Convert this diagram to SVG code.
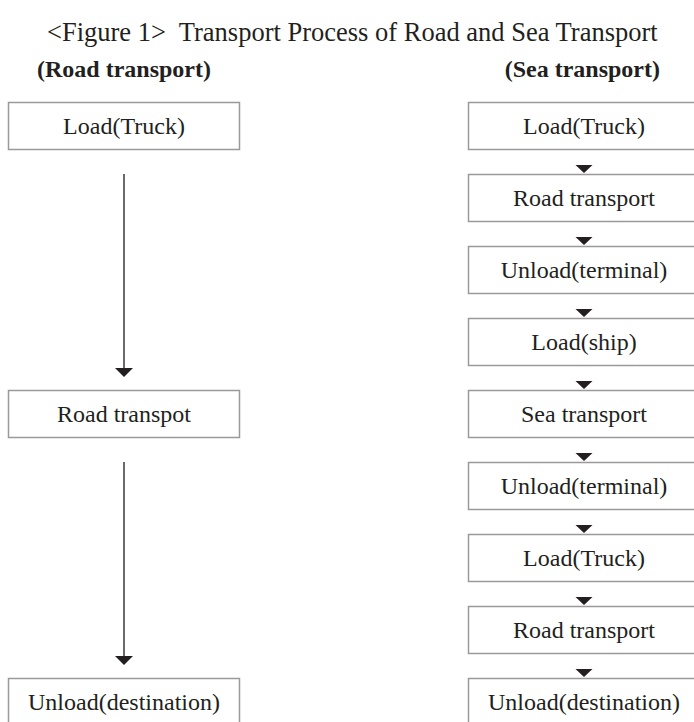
<svg xmlns="http://www.w3.org/2000/svg" width="694" height="722" viewBox="0 0 694 722">
<style>
  text { font-family: "Liberation Serif", "Times New Roman", serif; fill: #231f20; }
  .title { font-size: 26.5px; }
  .hdr { font-size: 24px; font-weight: bold; }
  .lbl { font-size: 24px; text-anchor: middle; }
  .box { fill: #ffffff; stroke: #9a9a9a; stroke-width: 1.5; }
  .line { stroke: #444444; stroke-width: 1.6; fill: none; }
  .head { fill: #231f20; }
</style>
<rect x="0" y="0" width="694" height="722" fill="#ffffff"/>
<text class="title" x="47" y="41">&lt;Figure 1&gt;&#160; Transport Process of Road and Sea Transport</text>
<text class="hdr" x="37" y="77">(Road transport)</text>
<text class="hdr" x="660" y="77" text-anchor="end">(Sea transport)</text>

<g id="connectors">
  <line class="line" x1="124" y1="174" x2="124" y2="370"/>
  <polygon class="head" points="115,368 133,368 124,377"/>
  <line class="line" x1="124" y1="462" x2="124" y2="658"/>
  <polygon class="head" points="115,656 133,656 124,665"/>
  <polygon class="head" points="575.5,165 592.5,165 584,173"/>
  <polygon class="head" points="575.5,237 592.5,237 584,245"/>
  <polygon class="head" points="575.5,309 592.5,309 584,317"/>
  <polygon class="head" points="575.5,381 592.5,381 584,389"/>
  <polygon class="head" points="575.5,453 592.5,453 584,461"/>
  <polygon class="head" points="575.5,525 592.5,525 584,533"/>
  <polygon class="head" points="575.5,597 592.5,597 584,605"/>
  <polygon class="head" points="575.5,669 592.5,669 584,677"/>
</g>

<g id="road-load">
  <rect class="box" x="8.5" y="102.5" width="231" height="47"/>
  <text class="lbl" x="124" y="134">Load(Truck)</text>
</g>
<g id="road-transport">
  <rect class="box" x="8.5" y="390.5" width="231" height="47"/>
  <text class="lbl" x="124" y="422">Road transpot</text>
</g>
<g id="road-unload">
  <rect class="box" x="8.5" y="678.5" width="231" height="47"/>
  <text class="lbl" x="124" y="710">Unload(destination)</text>
</g>

<g id="sea-load-truck">
  <rect class="box" x="468.5" y="102.5" width="231" height="47"/>
  <text class="lbl" x="584" y="134">Load(Truck)</text>
</g>
<g id="sea-road-transport-1">
  <rect class="box" x="468.5" y="174.5" width="231" height="47"/>
  <text class="lbl" x="584" y="206">Road transport</text>
</g>
<g id="sea-unload-terminal-1">
  <rect class="box" x="468.5" y="246.5" width="231" height="47"/>
  <text class="lbl" x="584" y="278">Unload(terminal)</text>
</g>
<g id="sea-load-ship">
  <rect class="box" x="468.5" y="318.5" width="231" height="47"/>
  <text class="lbl" x="584" y="350">Load(ship)</text>
</g>
<g id="sea-sea-transport">
  <rect class="box" x="468.5" y="390.5" width="231" height="47"/>
  <text class="lbl" x="584" y="422">Sea transport</text>
</g>
<g id="sea-unload-terminal-2">
  <rect class="box" x="468.5" y="462.5" width="231" height="47"/>
  <text class="lbl" x="584" y="494">Unload(terminal)</text>
</g>
<g id="sea-load-truck-2">
  <rect class="box" x="468.5" y="534.5" width="231" height="47"/>
  <text class="lbl" x="584" y="566">Load(Truck)</text>
</g>
<g id="sea-road-transport-2">
  <rect class="box" x="468.5" y="606.5" width="231" height="47"/>
  <text class="lbl" x="584" y="638">Road transport</text>
</g>
<g id="sea-unload-destination">
  <rect class="box" x="468.5" y="678.5" width="231" height="47"/>
  <text class="lbl" x="584" y="710">Unload(destination)</text>
</g>
</svg>
